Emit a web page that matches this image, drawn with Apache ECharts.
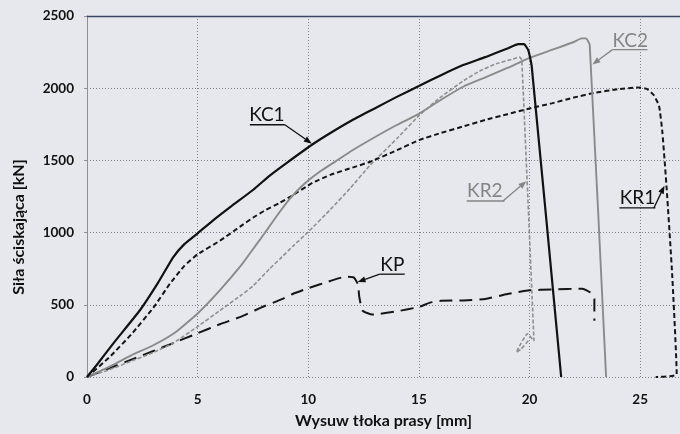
<!DOCTYPE html>
<html>
<head>
<meta charset="utf-8">
<script src="https://cdn.jsdelivr.net/npm/echarts@6/dist/echarts.min.js"></script>
<style>
html,body{margin:0;padding:0;background:#e6e8ee;}
#c{width:680px;height:434px;}
</style>
</head>
<body>
<div id="c"></div>
<script>
// ---- data (x: mm, y: kN) ----
var xTicks = [0, 5, 10, 15, 20, 25];
var yTicks = [0, 500, 1000, 1500, 2000, 2500];

var kc1 = [[0,0],[0.5,95],[1.2,235],[2.4,464],[3.2,650],[3.9,830],[4.4,920],[5,995],[5.7,1085],[6.5,1180],[7.5,1295],[8.26,1395],[9,1480],[10.2,1612],[11,1690],[12,1780],[13,1860],[14,1940],[15,2015],[16,2090],[17,2160],[18,2215],[19,2275],[19.5,2305],[19.75,2305],[19.95,2260],[20.1,2150],[21.43,0]];

var kc2 = [[0,0],[1,70],[2,150],[3,220],[4,310],[5,440],[6,600],[7,780],[7.5,885],[8,990],[8.6,1120],[9.2,1240],[9.8,1335],[10.5,1420],[11.2,1490],[12,1570],[13,1660],[14,1745],[15,1822],[16,1920],[17,2010],[18,2075],[19,2140],[20,2210],[21,2265],[22,2320],[22.35,2345],[22.55,2345],[22.72,2300],[23.46,0]];

var kr1 = [[0,0],[1,135],[2,295],[3,480],[3.75,646],[4.4,770],[5,850],[6,943],[7,1050],[7.5,1103],[8,1150],[8.7,1205],[9.2,1250],[10.2,1345],[11,1400],[12,1450],[12.8,1491],[14,1570],[15,1640],[16,1690],[17,1735],[18,1780],[19,1820],[20,1860],[21,1895],[22,1935],[23,1970],[24,1993],[24.9,2005],[25.3,1995],[25.6,1955],[25.85,1880],[26,1700],[26.2,1300],[26.45,700],[26.65,20],[25.7,0]];

var kr2 = [[0,0],[1,50],[2,110],[3,170],[3.9,235],[5,349],[6,460],[7,570],[7.5,630],[8.26,750],[8.7,815],[9.3,905],[10,1005],[11,1160],[11.9,1308],[12.8,1468],[14,1650],[15,1810],[16,1940],[17,2050],[17.74,2118],[18.5,2170],[19.2,2200],[19.55,2215],[19.65,2195],[20.2,250],[19.9,300],[19.6,230],[19.4,170],[19.6,190],[20,260]];

var kp = [[0,0],[1,60],[2,120],[3,180],[3.9,235],[5,303],[6,365],[7,420],[8,490],[8.7,532],[9.3,575],[10,615],[11,665],[11.7,695],[12.05,690],[12.25,640],[12.3,560],[12.45,460],[12.9,432],[14,455],[15,485],[15.5,515],[16,528],[17,530],[18,540],[19,575],[20,600],[21,606],[22.4,612],[22.75,585],[22.93,540],[22.93,390]];

// annotation labels: [text, color, textX, textY, underline x0, x1, underline y, leader start x, leader start y, tip x, tip y]
var labels = [
  ['KC1', '#111', 8.13, 1815, 7.36, 8.94, 1747, 8.94, 1747, 10.16, 1616],
  ['KC2', '#858585', 24.55, 2325, 23.75, 25.33, 2267, 23.75, 2267, 22.84, 2164],
  ['KR2', '#858585', 17.98, 1292, 17.16, 18.87, 1219, 18.8, 1219, 19.86, 1356],
  ['KR1', '#111', 24.88, 1242, 24.06, 25.69, 1171, 25.62, 1171, 26.1, 1325],
  ['KP',  '#111', 13.8, 778, 13.23, 14.36, 712, 13.23, 712, 12.23, 658]
];

var chart = echarts.init(document.getElementById('c'), null, {renderer:'canvas'});
var FONT = 'Lato, "Open Sans", sans-serif';

function lineSeries(name, data, color, width, type, sm) {
  return {
    name: name, type: 'line', data: data, symbol: 'none', smooth: sm,
    xAxisIndex: 0, yAxisIndex: 0,
    lineStyle: {color: color, width: width, type: type},
    z: 3, animation: false
  };
}

var option = {
  backgroundColor: '#e6e8ee',
  animation: false,
  grid: {left: 87, right: 0, top: 16, bottom: 53},
  xAxis: [{
    type: 'value', min: 0, max: 26.8, interval: 5,
    name: 'Wysuw tłoka prasy [mm]', nameLocation: 'middle', nameGap: 36,
    nameTextStyle: {fontFamily: FONT, fontWeight: 'bold', fontSize: 16, color: '#111'},
    axisLine: {show: false},
    axisTick: {show: false},
    axisLabel: {fontFamily: FONT, fontWeight: 'bold', fontSize: 13.5, color: '#111', margin: 16,
      showMaxLabel: false,
      formatter: function (v) { return xTicks.indexOf(v) >= 0 ? String(v) : ''; }},
    splitLine: {show: true, lineStyle: {color: '#7d828c', width: 1, type: [1, 2]}}
  }, {
    type: 'value', min: 0, max: 26.8, position: 'top',
    axisLine: {show: true, onZero: false, lineStyle: {color: '#3b4668', width: 1.3}},
    axisTick: {show: false}, axisLabel: {show: false}, splitLine: {show: false}
  }],
  yAxis: {
    type: 'value', min: 0, max: 2500, interval: 500,
    axisLine: {show: true, lineStyle: {color: '#8e9099', width: 1}},
    axisTick: {show: true, length: 3, lineStyle: {color: '#8e9099'}},
    axisLabel: {fontFamily: FONT, fontWeight: 'bold', fontSize: 13.5, color: '#111', margin: 13,
      formatter: function (v) { return yTicks.indexOf(v) >= 0 ? String(v) : ''; }},
    splitLine: {show: true, lineStyle: {color: '#7d828c', width: 1, type: [1, 2]}}
  },
  series: [
    lineSeries('KP', kp, '#151515', 2, [13, 7], 0.15),
    lineSeries('KR2', kr2, '#8f8f8f', 1.6, [4, 2], 0.1),
    lineSeries('KR1', kr1, '#151515', 2, [5, 3], 0.15),
    lineSeries('KC2', kc2, '#8a8a8a', 1.9, 'solid', 0.15),
    lineSeries('KC1', kc1, '#111111', 2.2, 'solid', 0.15)
  ]
};
chart.setOption(option);

function P(x, y) { return chart.convertToPixel({xAxisIndex: 0, yAxisIndex: 0}, [x, y]); }

var g = [];
g.push({
  type: 'text', x: 19, y: 227, rotation: Math.PI / 2,
  style: {text: 'Siła ściskająca [kN]', fontFamily: FONT, fontWeight: 'bold', fontSize: 16,
    fill: '#111', align: 'center', verticalAlign: 'middle'}
});
labels.forEach(function (L) {
  var t = P(L[2], L[3]);
  g.push({type: 'text', x: t[0], y: t[1], z: 10,
    style: {text: L[0], fontFamily: FONT, fontSize: 19, fill: L[1], align: 'center', verticalAlign: 'middle'}});
  var u0 = P(L[4], L[6]), u1 = P(L[5], L[6]);
  g.push({type: 'line', z: 10, shape: {x1: u0[0], y1: u0[1], x2: u1[0], y2: u1[1]},
    style: {stroke: L[1], lineWidth: 1.3}});
  var s = P(L[7], L[8]), e = P(L[9], L[10]);
  var dx = e[0] - s[0], dy = e[1] - s[1], len = Math.sqrt(dx * dx + dy * dy);
  var ux = dx / len, uy = dy / len, hl = 8, hw = 3;
  var bx = e[0] - ux * hl, by = e[1] - uy * hl;
  g.push({type: 'line', z: 10, shape: {x1: s[0], y1: s[1], x2: bx, y2: by},
    style: {stroke: L[1], lineWidth: 1.3}});
  g.push({type: 'polygon', z: 10, shape: {points: [[e[0], e[1]], [bx - uy * hw, by + ux * hw], [bx + uy * hw, by - ux * hw]]},
    style: {fill: L[1]}});
});
chart.setOption({graphic: g});
</script>
</body>
</html>
